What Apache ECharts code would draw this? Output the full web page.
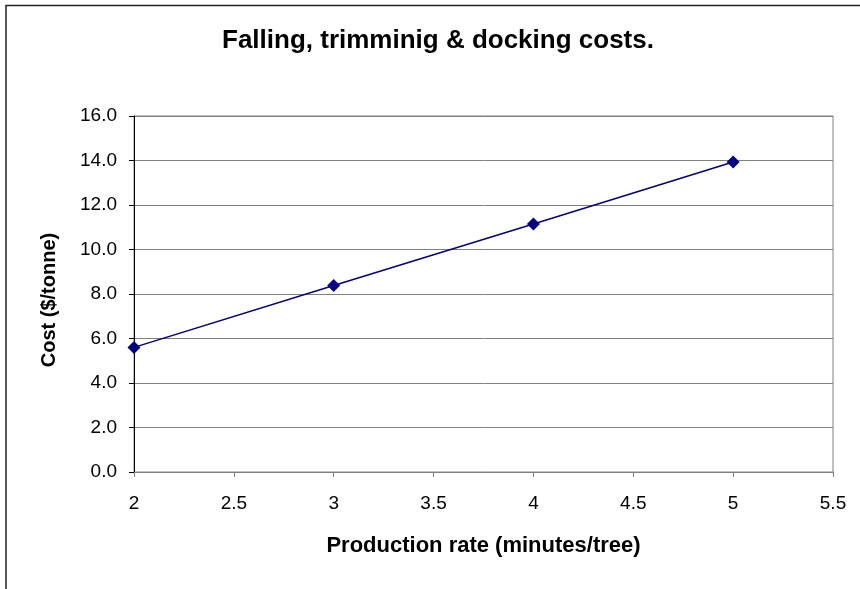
<!DOCTYPE html>
<html>
<head>
<meta charset="utf-8">
<script src="https://cdn.jsdelivr.net/npm/echarts@6/dist/echarts.min.js"></script>
<style>
html,body{margin:0;padding:0;background:#fff;}
#chart{width:860px;height:589px;}
</style>
</head>
<body>
<div id="chart"></div>
<script>
var titleText = 'Falling, trimminig & docking costs.';
var xName = 'Production rate (minutes/tree)';
var yName = 'Cost ($/tonne)';
var productionRate = [2, 3, 4, 5];
var costPerTonne = [5.6, 8.38, 11.15, 13.93];

var chart = echarts.init(document.getElementById('chart'));
var FONT = '"Liberation Sans", Arial, sans-serif';
chart.setOption({
  animation: false,
  backgroundColor: '#ffffff',
  title: {
    text: titleText,
    left: 222,
    top: 28,
    padding: 0,
    textStyle: {fontFamily: FONT, fontWeight: 'bold', fontSize: 26, color: '#000'}
  },
  graphic: [{
    type: 'rect',
    shape: {x: 6, y: 5.5, width: 1200, height: 1200},
    style: {fill: 'none', stroke: '#222', lineWidth: 1.5},
    silent: true
  }],
  grid: {
    left: 134, top: 116, right: 27, bottom: 117,
    show: true, borderColor: '#808080', borderWidth: 1, backgroundColor: '#fff'
  },
  xAxis: {
    type: 'value', min: 2, max: 5.5, interval: 0.5,
    name: xName, nameLocation: 'middle', nameGap: 63,
    nameTextStyle: {fontFamily: FONT, fontWeight: 'bold', fontSize: 22, color: '#000'},
    axisLine: {show: true, lineStyle: {color: '#808080', width: 1}},
    axisTick: {show: true, inside: false, length: 5, lineStyle: {color: '#808080'}},
    axisLabel: {margin: 22, fontFamily: FONT, fontSize: 19, color: '#000'},
    splitLine: {show: false}
  },
  yAxis: {
    type: 'value', min: 0, max: 16, interval: 2,
    name: yName, nameLocation: 'middle', nameGap: 75,
    nameTextStyle: {fontFamily: FONT, fontWeight: 'bold', fontSize: 20, color: '#000', padding: [0, 12, 0, 0]},
    axisLine: {show: true, lineStyle: {color: '#000', width: 1}},
    axisTick: {show: true, inside: false, length: 5, lineStyle: {color: '#000'}},
    axisLabel: {margin: 17, fontFamily: FONT, fontSize: 19, color: '#000',
      formatter: function (v) { return v.toFixed(1); }},
    splitLine: {show: true, lineStyle: {color: '#808080', width: 1}}
  },
  series: [{
    type: 'line',
    data: productionRate.map(function (x, i) { return [x, costPerTonne[i]]; }),
    symbol: 'diamond', symbolSize: 13, showAllSymbol: true,
    lineStyle: {color: '#000080', width: 1.5},
    itemStyle: {color: '#000080'}
  }]
});
</script>
</body>
</html>
